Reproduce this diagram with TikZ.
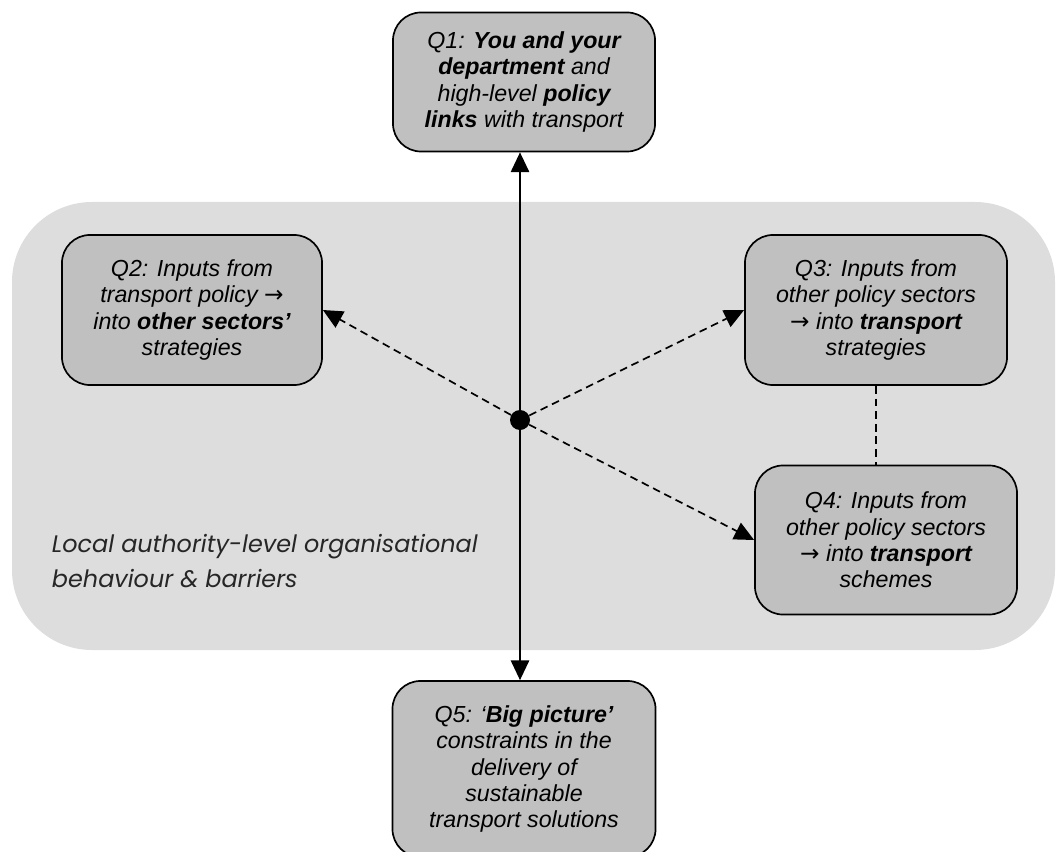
\documentclass[tikz,border=0pt]{standalone}
\usepackage{fontspec}
\setmainfont{Liberation Sans}
\newfontfamily\gothicfont{Poppins}
\newfontfamily\symfont{DejaVu Sans}
\usetikzlibrary{arrows.meta}
\definecolor{panelgrey}{RGB}{221,221,221}
\definecolor{boxgrey}{RGB}{192,192,192}
\newcommand{\toarrow}{{\upshape\symfont →}}

\begin{document}
\begin{tikzpicture}[x=0.025cm,y=-0.025cm,
	qbox/.style={draw,line width=1.2pt,fill=boxgrey,rounded corners=0.7cm,align=center,
		font=\fontsize{16.5}{18.7}\selectfont\itshape,inner sep=0pt},
	link/.style={line width=1.2pt,-{Triangle[length=14pt,width=13pt]}},
	dashlink/.style={link,dash pattern=on 5.5pt off 3.5pt}]
	\useasboundingbox (0,0) rectangle (1056,852);
	% panel for the organisational level
	\fill[panelgrey,rounded corners=2cm] (12,202) rectangle (1055,650);
	\node[anchor=north west,align=left,font=\gothicfont\fontsize{17}{25}\selectfont\itshape,text=black!85] (barrier) at (47,529)
		{Local authority-level organisational\\behaviour \& barriers};
	% question boxes
	\node[qbox,minimum width=6.55cm,minimum height=3.475cm] (q1) at (524,82)
		{Q1: \textbf{You and your}\\\textbf{department} and\\high-level \textbf{policy}\\\textbf{links} with transport};
	\node[qbox,minimum width=6.5cm,minimum height=3.75cm] (q2) at (192,310)
		{Q2: Inputs from\\transport policy \toarrow\\into \textbf{other sectors’}\\strategies};
	\node[qbox,minimum width=6.55cm,minimum height=3.75cm] (q3) at (876,310)
		{Q3: Inputs from\\other policy sectors\\\toarrow{} into \textbf{transport}\\strategies};
	\node[qbox,minimum width=6.55cm,minimum height=3.725cm] (q4) at (886,540)
		{Q4: Inputs from\\other policy sectors\\\toarrow{} into \textbf{transport}\\schemes};
	\node[qbox,minimum width=6.575cm,minimum height=4.4cm] (q5) at (524,769)
		{Q5: ‘\textbf{Big picture’}\\constraints in the\\delivery of\\sustainable\\transport solutions};
	% hub and links
	\node[circle,fill=black,inner sep=0pt,minimum size=0.5cm] (hub) at (520,420) {};
	\draw[link] (hub) -- (hub |- q1.south);
	\draw[link] (hub) -- (hub |- q5.north);
	\draw[dashlink] (hub) -- (q2.east);
	\draw[dashlink] (hub) -- (q3.west);
	\draw[dashlink] (hub) -- (q4.west);
	\draw[line width=1.2pt,dash pattern=on 5.5pt off 3.5pt] (q3.south) -- (q3.south |- q4.north);
\end{tikzpicture}
\end{document}
